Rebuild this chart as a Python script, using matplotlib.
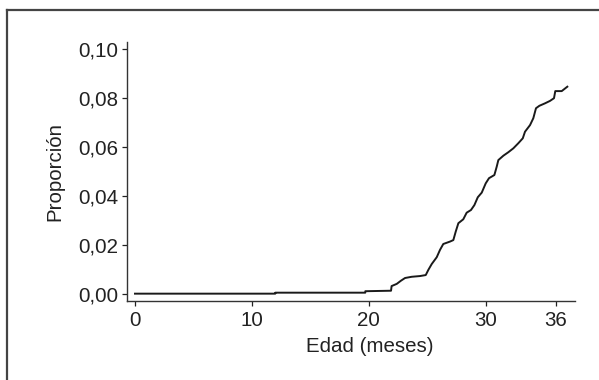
import matplotlib
matplotlib.use("Agg")
import matplotlib.pyplot as plt
from matplotlib.lines import Line2D

plt.rcParams['font.family'] = ['Liberation Sans', 'DejaVu Sans']

# curva acumulada (edad en meses, proporcion)
edad = [0.0, 12.0, 12.0, 19.7, 19.7, 21.9, 21.95, 22.39, 22.75, 23.10, 23.67, 24.38, 24.87,
        25.09, 25.38, 25.81, 26.09, 26.37, 26.95, 27.23, 27.43, 27.66, 28.08,
        28.37, 28.74, 29.03, 29.32, 29.66, 30.00, 30.28, 30.74, 30.94, 31.08,
        31.51, 31.93, 32.36, 32.79, 33.17, 33.36, 33.79, 34.07, 34.30, 34.59,
        35.07, 35.50, 35.84, 35.95, 36.50, 36.98]
proporcion = [0.0, 0.0, 0.0004, 0.0004, 0.0010, 0.0012, 0.0031, 0.0040, 0.0053, 0.0064, 0.0069,
              0.0072, 0.0076, 0.0097, 0.0121, 0.0149, 0.0179, 0.0203, 0.0213,
              0.0219, 0.0253, 0.0288, 0.0304, 0.0331, 0.0342, 0.0362, 0.0394,
              0.0413, 0.0451, 0.0472, 0.0485, 0.0519, 0.0546, 0.0564, 0.0578,
              0.0594, 0.0615, 0.0635, 0.0662, 0.0689, 0.0717, 0.0758, 0.0768,
              0.0778, 0.0788, 0.0799, 0.0828, 0.0828, 0.0846]

xticks = [0, 10, 20, 30, 36]
yticks = [0.00, 0.02, 0.04, 0.06, 0.08, 0.10]
ytick_labels = ["0,00", "0,02", "0,04", "0,06", "0,08", "0,10"]

fig = plt.figure(figsize=(5.99, 3.80), dpi=100)
ax = fig.add_axes([0.2115, 0.2079, 0.7485, 0.6824])

ax.plot(edad, proporcion, color="#1a1a1a", lw=1.4)

ax.set_xlim(-0.71, 37.64)
ax.set_ylim(-0.003, 0.103)
ax.set_xticks(xticks)
ax.set_yticks(yticks)
ax.set_yticklabels(ytick_labels)

for side in ["top", "right"]:
    ax.spines[side].set_visible(False)
for side in ["left", "bottom"]:
    ax.spines[side].set_color("#333333")
    ax.spines[side].set_linewidth(1.0)

ax.tick_params(axis="y", length=3.3, width=0.9, pad=2.7, labelsize=14.8, colors="#222222")
ax.tick_params(axis="x", length=3.6, width=0.9, pad=3.5, labelsize=14.8, colors="#222222")

ax.set_xlabel("Edad (meses)", fontsize=14.8, color="#222222")
ax.set_ylabel("Proporción", fontsize=14.8, color="#222222")
ax.xaxis.set_label_coords(0.5427, -0.1774)
ax.xaxis.label.set_va("center")
ax.yaxis.set_label_coords(-0.16, 0.5)
ax.yaxis.label.set_va("center")

# marco recortado de la figura
fig.add_artist(Line2D([7 / 599, 1.0], [1 - 10 / 380, 1 - 10 / 380],
                      transform=fig.transFigure, color="#444444", lw=1.6))
fig.add_artist(Line2D([7 / 599, 7 / 599], [0.0, 1 - 10 / 380],
                      transform=fig.transFigure, color="#444444", lw=1.6))

fig.savefig("out.png", dpi=100)
